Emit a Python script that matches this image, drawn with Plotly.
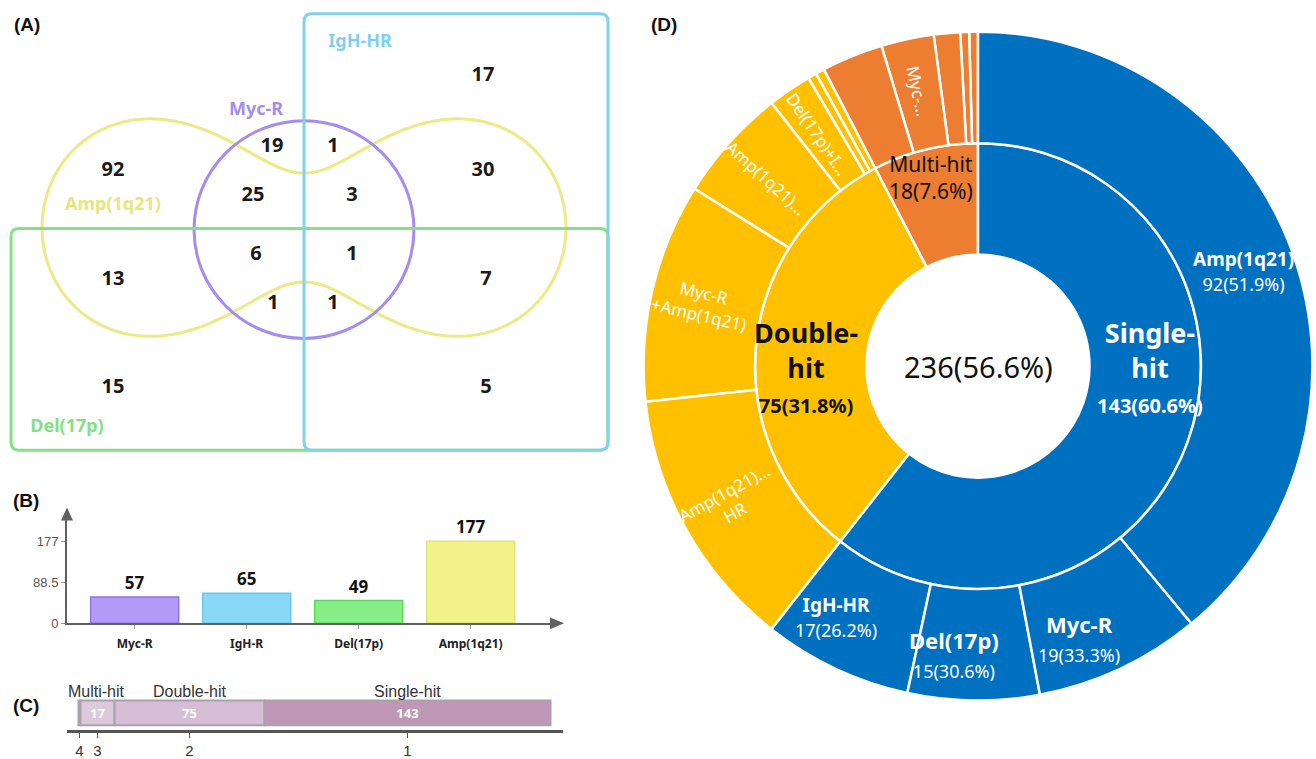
import numpy as np
import plotly.graph_objects as go

# ---------------- data ----------------
# (A) Venn diagram: counts of each exclusive region
venn_regions = [
    "IgH-HR only", "Amp(1q21) only", "Myc-R only", "Myc-R+IgH-HR",
    "Amp(1q21)+IgH-HR", "Myc-R+Amp(1q21)", "Myc-R+Amp(1q21)+IgH-HR",
    "Myc-R+Amp(1q21)+Del(17p)", "all four", "Amp(1q21)+Del(17p)",
    "Amp(1q21)+Del(17p)+IgH-HR", "Myc-R+Del(17p)", "Myc-R+Del(17p)+IgH-HR",
    "Del(17p) only", "Del(17p)+IgH-HR",
]
venn_counts = [17, 92, 19, 1, 30, 25, 3, 6, 1, 13, 7, 1, 1, 15, 5]
venn_sets = ["IgH-HR", "Myc-R", "Amp(1q21)", "Del(17p)"]

# (B) patients per aberration
bar_categories = ["Myc-R", "IgH-R", "Del(17p)", "Amp(1q21)"]
bar_values = [57, 65, 49, 177]

# (C) number of hits per patient
hit_levels = ["4", "3", "2", "1"]
hit_counts = [1, 17, 75, 143]
hit_group_names = ["Multi-hit", "Double-hit", "Single-hit"]

# (D) sunburst: hit groups and their aberration combinations
hit_groups = ["Single-hit", "Double-hit", "Multi-hit"]
hit_totals = [143, 75, 18]
cohort_pct = 56.6

single_names = ["Amp(1q21)", "Myc-R", "Del(17p)", "IgH-HR"]
single_counts = [92, 19, 15, 17]
single_pct = [51.9, 33.3, 30.6, 26.2]

double_names = ["Amp(1q21)+IgH-HR", "Myc-R+Amp(1q21)", "Amp(1q21)+Del(17p)",
                "Del(17p)+IgH-HR", "Myc-R+IgH-HR", "Myc-R+Del(17p)"]
double_counts = [30, 25, 13, 5, 1, 1]
double_shown = ["Amp(1q21)…<br>HR", "Myc-R<br>+Amp(1q21)", "Amp(1q21)…",
                "Del(17p)+I…", "", ""]

multi_names = ["Amp(1q21)+Del(17p)+IgH-HR", "Myc-R+Amp(1q21)+Del(17p)",
               "Myc-R+Amp(1q21)+IgH-HR", "Myc-R+Del(17p)+IgH-HR",
               "Myc-R+Amp(1q21)+Del(17p)+IgH-HR"]
multi_counts = [7, 6, 3, 1, 1]
multi_shown = ["", "Myc-…", "", "", ""]

# ---------------- layout helpers ----------------
W, H = 1316, 759


def px(x):
    return x / W


def py(y):
    return 1 - y / H


FONT = "Noto Sans"
NARROW = "Liberation Sans Narrow, Liberation Sans, Arial"
fig = go.Figure()
shapes = []
annotations = []


def note(x, y, text, font, xref="paper", yref="paper", angle=0):
    annotations.append(dict(x=x, y=y, xref=xref, yref=yref, text=text,
                            showarrow=False, textangle=angle, align="center",
                            xanchor="center", yanchor="middle", font=font))


# panel letters
for letter, (lx, ly) in zip(["(A)", "(B)", "(C)", "(D)"],
                            [(27, 25), (26, 506), (26, 713), (664, 25)]):
    note(px(lx), py(ly), f"<b>{letter}</b>",
         dict(family="Liberation Sans, Arial", size=19, color="#111"))

# ---------------- (A) Venn ----------------
venn_xy = [(483, 77), (113, 173), (272, 149), (333, 149), (483, 173), (253, 198),
           (352, 198), (256, 258), (352, 258), (113, 283), (486, 283), (273, 307),
           (333, 307), (113, 392), (486, 392)]
fig.add_trace(go.Scatter(
    x=[p[0] for p in venn_xy], y=[p[1] for p in venn_xy], mode="text",
    text=[f"<b>{c}</b>" for c in venn_counts], hovertext=venn_regions,
    textfont=dict(family=FONT, size=20, color="#1a1a1a"),
    xaxis="x", yaxis="y", showlegend=False, hoverinfo="text"))

set_label_xy = [(360, 43), (256, 112), (113, 208), (67, 432)]
set_colors = ["#7fd0ee", "#a48cf0", "#e6e67e", "#84e084"]
fig.add_trace(go.Scatter(
    x=[p[0] for p in set_label_xy], y=[p[1] for p in set_label_xy], mode="text",
    text=[f"<b>{s}</b>" for s in venn_sets],
    textfont=dict(family=FONT, size=18, color=set_colors),
    xaxis="x", yaxis="y", showlegend=False, hoverinfo="skip"))


def rrect(x0, y0, x1, y1, r):
    return (f"M {x0 + r},{y0} L {x1 - r},{y0} Q {x1},{y0} {x1},{y0 + r} "
            f"L {x1},{y1 - r} Q {x1},{y1} {x1 - r},{y1} L {x0 + r},{y1} "
            f"Q {x0},{y1} {x0},{y1 - r} L {x0},{y0 + r} Q {x0},{y0} {x0 + r},{y0} Z")


# Amp(1q21): peanut-shaped Cassini oval
t = np.linspace(0, 2 * np.pi, 721)
k4 = 1.072 ** 2
rr = np.sqrt(np.cos(2 * t) + np.sqrt(k4 - np.sin(2 * t) ** 2))
ox = 304 + 182 * rr * np.cos(t)
oy = 230 - 205 * rr * np.sin(t)
peanut = "M " + " L ".join(f"{a:.2f},{b:.2f}" for a, b in zip(ox, oy)) + " Z"

shapes += [
    dict(type="path", xref="x", yref="y", path=peanut,
         line=dict(color="#eaea86", width=3)),
    dict(type="circle", xref="x", yref="y", x0=194, x1=414, y0=122, y1=342,
         line=dict(color="#a48cf0", width=3)),
    dict(type="path", xref="x", yref="y", path=rrect(11, 231, 608, 455, 8),
         line=dict(color="#86e086", width=3)),
    dict(type="path", xref="x", yref="y", path=rrect(304, 14, 608, 455, 8),
         line=dict(color="#80d2ef", width=3)),
]

# ---------------- (B) bar chart ----------------
bar_fill = ["#b29bf8", "#89d8f5", "#86ee86", "#f2f28a"]
bar_edge = ["#8d74e0", "#6cc6ea", "#5cd65c", "#e2e27a"]
fig.add_trace(go.Bar(
    x=bar_categories, y=bar_values, xaxis="x2", yaxis="y2", width=0.786,
    marker=dict(color=bar_fill, line=dict(color=bar_edge, width=1.5)),
    text=[str(v) for v in bar_values], texttemplate="<b>%{text}</b>",
    textposition="outside", cliponaxis=False,
    textfont=dict(family=FONT, size=17, color="#111"), showlegend=False))

ymax = max(bar_values)
AX = "#606060"
# arrow heads on the two axes
shapes += [
    dict(type="path", xref="paper", yref="paper", fillcolor=AX, line=dict(width=0),
         path=f"M {px(61)},{py(526)} L {px(73)},{py(526)} L {px(67)},{py(513)} Z"),
    dict(type="path", xref="paper", yref="paper", fillcolor=AX, line=dict(width=0),
         path=f"M {px(550)},{py(624)} L {px(550)},{py(636)} L {px(564)},{py(630)} Z"),
]

# ---------------- (C) hit bar ----------------
c_base = np.concatenate([[0], np.cumsum(hit_counts)[:-1]])
c_centers = c_base + np.array(hit_counts) / 2
seg_fill = ["#cbbfcb", "#dccadc", "#d6bed6", "#bf98b8"]
fig.add_trace(go.Bar(
    y=[0] * len(hit_counts), x=hit_counts, base=c_base, orientation="h", width=1,
    xaxis="x3", yaxis="y3",
    marker=dict(color=seg_fill, line=dict(color="#a9a2a9", width=2)),
    text=[str(c) if c > 5 else "" for c in hit_counts], textposition="inside",
    insidetextanchor="middle", texttemplate="<b>%{text}</b>",
    textfont=dict(family=FONT, size=13, color="white"), showlegend=False))

group_spans = [(0, hit_counts[0] + hit_counts[1]),
               (c_base[2], c_base[2] + hit_counts[2]),
               (c_base[3], c_base[3] + hit_counts[3])]
for name, (a, b) in zip(hit_group_names, group_spans):
    note((a + b) / 2, py(699), name, dict(family=NARROW, size=16, color="#333"),
         xref="x3")

# ---------------- (D) sunburst ----------------
C_BLUE, C_YEL, C_ORG = "#0070c0", "#ffc000", "#ed7d31"
group_colors = [C_BLUE, C_YEL, C_ORG]
children = [single_names, double_names, multi_names]
child_counts = [single_counts, double_counts, multi_counts]
total = sum(hit_totals)

# plotly lays sunburst sectors counter-clockwise; feed them reversed so they
# read clockwise from 12 o'clock
ids, labels, parents, values, colors = ["root"], [f"{total}"], [""], [total], ["white"]
for g in reversed(range(3)):
    ids.append(hit_groups[g]); labels.append(hit_groups[g]); parents.append("root")
    values.append(hit_totals[g]); colors.append(group_colors[g])
    for n, c in reversed(list(zip(children[g], child_counts[g]))):
        ids.append(f"{hit_groups[g]}/{n}"); labels.append(n)
        parents.append(hit_groups[g]); values.append(c); colors.append(group_colors[g])

fig.add_trace(go.Sunburst(
    ids=ids, labels=labels, parents=parents, values=values, branchvalues="total",
    sort=False, rotation=90, textinfo="none",
    marker=dict(colors=colors, line=dict(color="white", width=2.5)),
    leaf=dict(opacity=1), domain=dict(x=[px(640), 1.0], y=[py(708), py(32)])))

CX, CY, R = 978, 370, 338


def dlabel(deg, r, text, size, color, angle=0):
    a = np.radians(deg)
    note(px(CX + r * np.sin(a)), py(CY - r * np.cos(a)), text,
         dict(family=FONT, size=size, color=color), angle=angle)


# centre
dlabel(0, 0, f"{total}({cohort_pct}%)", 29, "#111")

# inner ring
g_start = np.concatenate([[0], np.cumsum(hit_totals)[:-1]]) / total * 360
g_end = np.cumsum(hit_totals) / total * 360
inner_angle = [90, 270, (g_start[2] + g_end[2]) / 2]
inner_r = [0.51 * R, 0.51 * R, 0.58 * R]
for g in range(3):
    pct = hit_totals[g] / total * 100
    if g < 2:
        head = hit_groups[g].replace("-", "-<br>")
        txt = (f"<b>{head}</b><br><span style='font-size:20px'><b>"
               f"{hit_totals[g]}({pct:.1f}%)</b></span>")
        dlabel(inner_angle[g], inner_r[g], txt, 27, "white" if g == 0 else "#111")
    else:
        txt = f"{hit_totals[g]}({pct:.1f}%)"
        txt = f"{hit_groups[g]}<br>{txt}"
        dlabel(inner_angle[g], inner_r[g], txt, 21, "#111")

# outer ring
all_counts = single_counts + double_counts + multi_counts
o_start = np.concatenate([[0], np.cumsum(all_counts)[:-1]]) / total * 360
o_end = np.cumsum(all_counts) / total * 360
o_mid = (o_start + o_end) / 2
single_nudge = [0, 5, 4, 4]
single_r = [0.835, 0.865, 0.865, 0.86]
for i, (n, c, p) in enumerate(zip(single_names, single_counts, single_pct)):
    size = 22 if n == "Myc-R" or n == "Del(17p)" else 19
    txt = f"<b>{n}</b><br><span style='font-size:18px'>{c}({p}%)</span>"
    dlabel(o_mid[i] + single_nudge[i], single_r[i] * R, txt, size, "white")
shown = double_shown + multi_shown
for j, txt in enumerate(shown):
    i = j + len(single_names)
    if txt:
        dlabel(o_mid[i], 0.84 * R, txt, 17, "white", angle=o_mid[i] - 270)

# ---------------- layout ----------------
fig.update_layout(
    width=W, height=H, margin=dict(l=0, r=0, t=0, b=0),
    paper_bgcolor="white", plot_bgcolor="rgba(0,0,0,0)", showlegend=False,
    xaxis=dict(domain=[0, px(620)], range=[0, 620], visible=False),
    yaxis=dict(domain=[py(470), 1], range=[470, 0], visible=False),
    xaxis2=dict(domain=[px(67), px(552)], anchor="y2", type="category",
                range=[-0.604, 3 + (552 - 470.7) / 112], showline=True,
                linecolor=AX, linewidth=2, ticks="outside", ticklen=4,
                tickcolor="#999", showgrid=False, zeroline=False,
                ticklabelstandoff=4,
                tickfont=dict(family=FONT, size=12, color="#222", weight="bold")),
    yaxis2=dict(domain=[py(630), py(524)], anchor="x2", range=[0, ymax * 226 / 177],
                tickvals=[0, ymax / 2, ymax], ticktext=["0", f"{ymax / 2:g}", f"{ymax}"],
                showline=True, linecolor=AX, linewidth=2, ticks="outside", ticklen=4,
                tickcolor="#999", showgrid=False, zeroline=False,
                tickfont=dict(family=NARROW, size=13, color="#555")),
    xaxis3=dict(domain=[px(67), px(563)], anchor="y3",
                range=[-5.75, 242.25], tickvals=list(c_centers), ticktext=hit_levels,
                showline=True, linecolor="#555", linewidth=3, ticks="outside",
                ticklen=5, tickcolor="#555", showgrid=False, zeroline=False,
                tickfont=dict(family=NARROW, size=15, color="#333")),
    yaxis3=dict(domain=[py(738), py(700)], anchor="x3", range=[-0.7, 0.82],
                visible=False),
    shapes=shapes, annotations=annotations,
)

fig.write_html("out.html")
